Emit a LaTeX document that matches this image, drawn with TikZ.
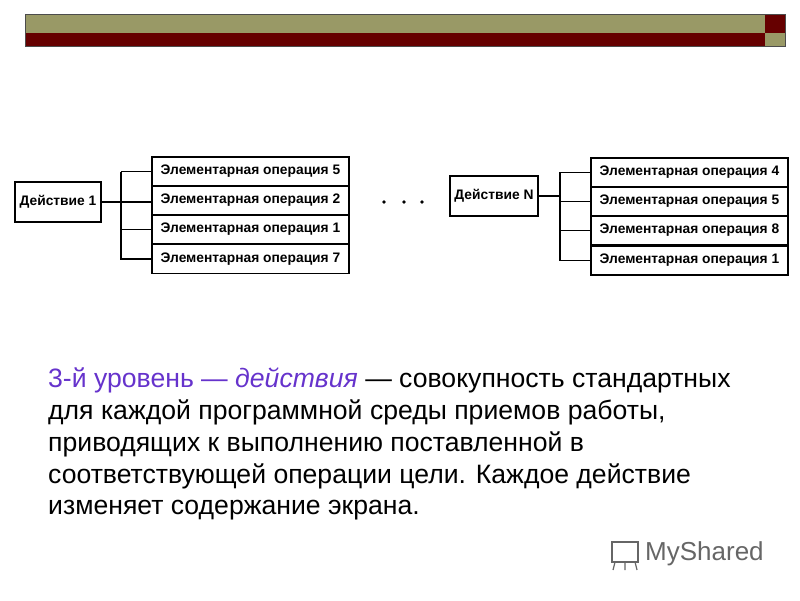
\documentclass[tikz,border=0pt]{standalone}
\usepackage{fontspec}
\setmainfont{Liberation Sans}
\definecolor{khaki}{RGB}{153,153,102}
\definecolor{dred}{RGB}{102,0,0}
\definecolor{purp}{RGB}{102,51,204}
\begin{document}
\begin{tikzpicture}[x=1pt,y=-1pt,
  op/.style={draw,line width=1.2pt,minimum width=197pt,minimum height=29pt,inner sep=0pt,font=\bfseries\fontsize{13.8}{14}\selectfont},
  act/.style={draw,line width=1.2pt,inner sep=0pt,minimum height=40pt,font=\bfseries\fontsize{13.8}{14}\selectfont},
  br/.style={line width=1.2pt}]
\useasboundingbox (0,0) rectangle (800,600);
\fill[khaki] (25,14) rectangle (765,33);
\fill[dred] (25,33) rectangle (765,46);
\fill[dred] (765,14) rectangle (785,33);
\fill[khaki] (765,33) rectangle (785,46);
\draw[black!70,line width=0.6pt] (25,14) rectangle (785,46);
% left
\node[act,minimum width=86pt] (a1) at (58,202) {Действие 1};
\node[op] (l1) at (250.5,171.5) {Элементарная операция 5};
\node[op] (l2) at (250.5,200.5) {Элементарная операция 2};
\node[op] (l3) at (250.5,229.5) {Элементарная операция 1};
\node[op] (l4) at (250.5,259) {Элементарная операция 7};
\coordinate (lt) at (121,172);
\coordinate (lb) at (121,260);
\draw[br] (lt) -- (lb);
\draw[br] (a1.east) -- (l2.west|-a1.east);
\foreach \n in {l1,l3,l4} \draw[br] (lt|-\n.west) -- (\n.west);
% dots
\foreach \x in {384,404,422} \fill (\x,202) circle (1.8pt);
% right
\node[act,minimum width=88pt] (an) at (494,196) {Действие N};
\node[op] (r1) at (689.5,172.5) {Элементарная операция 4};
\node[op] (r2) at (689.5,201.5) {Элементарная операция 5};
\node[op] (r3) at (689.5,230.5) {Элементарная операция 8};
\node[op] (r4) at (689.5,260.5) {Элементарная операция 1};
\coordinate (rt) at (560,172);
\coordinate (rb) at (560,261);
\draw[br] (rt) -- (rb);
\draw[br] (an.east) -- (rt|-an.east);
\foreach \n in {r1,r2,r3,r4} \draw[br] (rt|-\n.west) -- (\n.west);
% text
\node[anchor=north west,align=left,inner sep=0pt,font=\fontsize{26.6}{31.7}\selectfont] (txt) at (48,368)
{\textcolor{purp}{3-й уровень — \textit{действия}} — совокупность стандартных\\
для каждой программной среды приемов работы,\\
приводящих к выполнению поставленной в\\
соответствующей операции цели. Каждое действие\\
изменяет содержание экрана.};
% watermark
\node[anchor=west,text=black!60,font=\fontsize{26}{28}\selectfont,inner sep=0pt] (wm) at (645,554) {MyShared};
\draw[black!60,line width=1.2pt] (612,542) rectangle (638,562);
\draw[black!60,line width=1.2pt] (615,562) -- (613,570) (625,562) -- (625,570) (635,562) -- (637,570);
\end{tikzpicture}
\end{document}
